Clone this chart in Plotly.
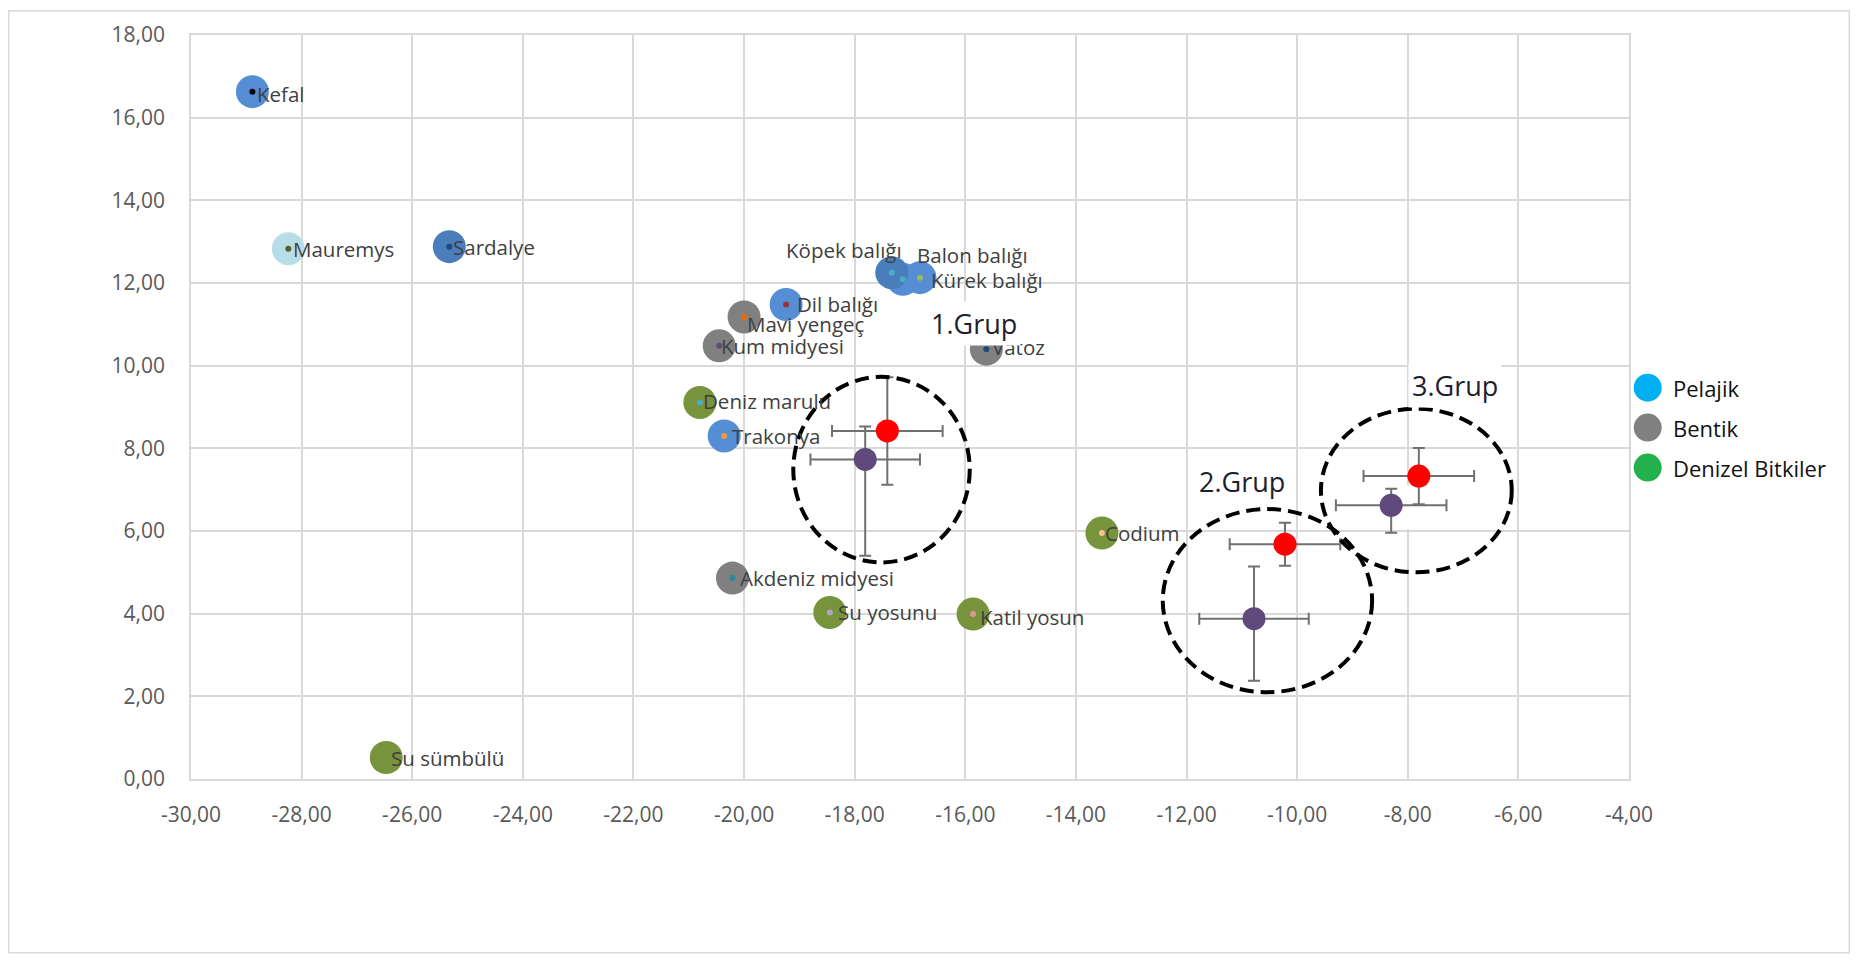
import plotly.graph_objects as go

# ---------------- data ----------------
species = ["Kefal", "Mauremys", "Sardalye", "Köpek balığı", "Balon balığı", "Kürek balığı",
           "Dil balığı", "Mavi yengeç", "Kum midyesi", "Vatoz", "Deniz marulu", "Trakonya",
           "Codium", "Akdeniz midyesi", "Su yosunu", "Katil yosun", "Su sümbülü"]
d13c = [-28.89, -28.24, -25.33, -17.33, -17.13, -16.82,
        -19.24, -20.00, -20.45, -15.62, -20.80, -20.36,
        -13.53, -20.21, -18.45, -15.86, -26.47]
d15n = [16.63, 12.83, 12.88, 12.25, 12.09, 12.13,
        11.48, 11.18, 10.48, 10.40, 9.11, 8.30,
        5.95, 4.86, 4.03, 3.99, 0.52]
habitat = ["Pelajik", "Pelajik", "Pelajik", "Pelajik", "Pelajik", "Pelajik",
           "Pelajik", "Bentik", "Bentik", "Bentik", "Denizel Bitkiler", "Pelajik",
           "Denizel Bitkiler", "Bentik", "Denizel Bitkiler", "Denizel Bitkiler", "Denizel Bitkiler"]

group_labels = ["1.Grup", "2.Grup", "3.Grup"]
red_x = [-17.41, -10.22, -7.80]
red_y = [8.42, 5.68, 7.33]
red_xerr = [1.00, 1.00, 1.00]
red_yerr = [1.30, 0.52, 0.68]
purple_x = [-17.81, -10.78, -8.30]
purple_y = [7.73, 3.88, 6.62]
purple_xerr = [0.99, 0.99, 1.00]
purple_yerr_plus = [0.80, 1.26, 0.40]
purple_yerr_minus = [2.33, 1.50, 0.66]

# group label positions and ellipse extents (data units)
group_label_x = [-15.85, -11.00, -7.14]
group_label_y = [11.03, 7.19, 9.51]
ellipse_x0 = [-19.11, -12.43, -9.57]
ellipse_x1 = [-15.92, -8.645, -6.12]
ellipse_y0 = [5.24, 2.10, 5.00]
ellipse_y1 = [9.73, 6.53, 8.96]

legend_names = ["Pelajik", "Bentik", "Denizel Bitkiler"]

x_ticks = [-30, -28, -26, -24, -22, -20, -18, -16, -14, -12, -10, -8, -6, -4]
x_tick_text = ["-30,00", "-28,00", "-26,00", "-24,00", "-22,00", "-20,00", "-18,00",
               "-16,00", "-14,00", "-12,00", "-10,00", "-8,00", "-6,00", "-4,00"]
y_ticks = [0, 2, 4, 6, 8, 10, 12, 14, 16, 18]
y_tick_text = ["0,00", "2,00", "4,00", "6,00", "8,00", "10,00", "12,00", "14,00", "16,00", "18,00"]

# ---------------- styles ----------------
bubble_color = {"Kefal": "#558ED5", "Mauremys": "#B7DEE8", "Sardalye": "#4A7EBB",
                "Köpek balığı": "#4A7EBB", "Balon balığı": "#558ED5", "Kürek balığı": "#558ED5",
                "Dil balığı": "#558ED5", "Mavi yengeç": "#808080", "Kum midyesi": "#808080",
                "Vatoz": "#808080", "Deniz marulu": "#77933C", "Trakonya": "#558ED5",
                "Codium": "#77933C", "Akdeniz midyesi": "#808080", "Su yosunu": "#77933C",
                "Katil yosun": "#77933C", "Su sümbülü": "#77933C"}
dot_color = {"Kefal": "#000000", "Mauremys": "#4F6228", "Sardalye": "#1F497D",
             "Köpek balığı": "#4BACC6", "Balon balığı": "#4BACC6", "Kürek balığı": "#9BBB59",
             "Dil balığı": "#953735", "Mavi yengeç": "#E46C0A", "Kum midyesi": "#604A7B",
             "Vatoz": "#1F497D", "Deniz marulu": "#4BACC6", "Trakonya": "#F79646",
             "Codium": "#FAC090", "Akdeniz midyesi": "#31859C", "Su yosunu": "#B3A2C7",
             "Katil yosun": "#D99694", "Su sümbülü": "#77933C"}
# label offsets in pixels: (anchor, dx, dy_down)
label_offset = {"Kefal": ("left", 3, 2), "Mauremys": ("left", 3, 0), "Sardalye": ("left", 2, 0),
                "Köpek balığı": ("right", 12, -23), "Balon balığı": ("left", 12, -24),
                "Kürek balığı": ("left", 9, 2), "Dil balığı": ("left", 9, 0),
                "Mavi yengeç": ("left", 1, 7), "Kum midyesi": ("left", 0, 0),
                "Vatoz": ("left", 4, -2), "Deniz marulu": ("left", 1, -1),
                "Trakonya": ("left", 6, 0), "Codium": ("left", 1, 0),
                "Akdeniz midyesi": ("left", 6, 0), "Su yosunu": ("left", 6, 0),
                "Katil yosun": ("left", 5, 3), "Su sümbülü": ("left", 3, 0)}
legend_color = {"Pelajik": "#00B0F0", "Bentik": "#808080", "Denizel Bitkiler": "#22B14C"}

FONT = "Open Sans"
GRID = "#D9D9D9"
ERR = "#707070"

fig = go.Figure()

# species bubbles (draw Köpek last so it sits on top of neighbours)
order = [i for i in range(len(species)) if species[i] != "Köpek balığı"] + \
        [species.index("Köpek balığı")]
fig.add_trace(go.Scatter(
    x=[d13c[i] for i in order], y=[d15n[i] for i in order], mode="markers",
    marker=dict(size=33, color=[bubble_color[species[i]] for i in order], line=dict(width=0)),
    text=[species[i] for i in order], customdata=[habitat[i] for i in order],
    hovertemplate="%{text} (%{customdata})<br>%{x:.2f}, %{y:.2f}<extra></extra>",
    showlegend=False))
# small centre dots
fig.add_trace(go.Scatter(
    x=d13c, y=d15n, mode="markers",
    marker=dict(size=6, color=[dot_color[s] for s in species], line=dict(width=0)),
    hoverinfo="skip", showlegend=False))

# group means with error bars
fig.add_trace(go.Scatter(
    x=purple_x, y=purple_y, mode="markers",
    marker=dict(size=23, color="#604A7B", line=dict(width=0)),
    error_x=dict(type="data", array=purple_xerr, color=ERR, thickness=2, width=6),
    error_y=dict(type="data", symmetric=False, array=purple_yerr_plus,
                 arrayminus=purple_yerr_minus, color=ERR, thickness=2, width=6),
    showlegend=False))
fig.add_trace(go.Scatter(
    x=red_x, y=red_y, mode="markers",
    marker=dict(size=23, color="#FF0000", line=dict(width=0)),
    error_x=dict(type="data", array=red_xerr, color=ERR, thickness=2, width=6),
    error_y=dict(type="data", array=red_yerr, color=ERR, thickness=2, width=6),
    showlegend=False))

annotations = []
for s, x, y in zip(species, d13c, d15n):
    anchor, dx, dy = label_offset[s]
    annotations.append(dict(x=x, y=y, xref="x", yref="y", text=s, showarrow=False,
                            xanchor=anchor, yanchor="middle", xshift=dx, yshift=-dy,
                            font=dict(family=FONT, size=20.5, color="#404040")))

shapes = []
# white patch (pasted picture background) hiding grid lines around the 3rd group's purple point
shapes.append(dict(type="rect", xref="x", yref="y", x0=-9.54, x1=-7.16, y0=6.05, y1=7.10,
                   fillcolor="white", line=dict(width=0), layer="between"))
for x0, x1, y0, y1 in zip(ellipse_x0, ellipse_x1, ellipse_y0, ellipse_y1):
    shapes.append(dict(type="circle", xref="x", yref="y", x0=x0, x1=x1, y0=y0, y1=y1,
                       line=dict(color="black", width=4, dash="14px,7px"), layer="above"))
for t, x, y in zip(group_labels, group_label_x, group_label_y):
    annotations.append(dict(x=x, y=y, xref="x", yref="y", text=t, showarrow=False,
                            xanchor="center", yanchor="middle", bgcolor="white", borderpad=3,
                            font=dict(family=FONT, size=27, color="#1E1E2E")))

# manual legend (large round markers)
leg_x, leg_y0, leg_dy, text_x = 1.0130, 0.526, 0.0537, 1.0295
for k, name in enumerate(legend_names):
    yy = leg_y0 - k * leg_dy
    shapes.append(dict(type="circle", xref="paper", yref="paper", xsizemode="pixel",
                       ysizemode="pixel", xanchor=leg_x, yanchor=yy, x0=-14, x1=14, y0=-14, y1=14,
                       fillcolor=legend_color[name], line=dict(width=0)))
    annotations.append(dict(x=text_x, y=yy, xref="paper", yref="paper", text=name,
                            showarrow=False, xanchor="left", yanchor="middle",
                            font=dict(family=FONT, size=22, color="#111111")))

# outer chart border (just inside the figure edge)
shapes.append(dict(type="rect", xref="paper", yref="paper", x0=-0.1267, x1=1.1532,
                   y0=-0.2336, y1=1.0325, line=dict(color=GRID, width=1.5), layer="below"))

# page has an 8px body margin: figure sized so that it exactly fills the 1858x962 window
fig.update_layout(
    width=1842, height=946,
    margin=dict(l=183, r=221, t=25, b=175),
    paper_bgcolor="white", plot_bgcolor="white",
    font=dict(family=FONT, size=21, color="#595959"),
    showlegend=False,
    annotations=annotations, shapes=shapes,
    xaxis=dict(range=[-30, -4], tickvals=x_ticks, ticktext=x_tick_text,
               showgrid=True, gridcolor=GRID, gridwidth=1.5, zeroline=False,
               showline=True, linecolor=GRID, linewidth=1.5, mirror=True,
               ticks="", ticklabelstandoff=16,
               tickfont=dict(family=FONT, size=21, color="#595959")),
    yaxis=dict(range=[0, 18], tickvals=y_ticks, ticktext=y_tick_text,
               showgrid=True, gridcolor=GRID, gridwidth=1.5, zeroline=False,
               showline=True, linecolor=GRID, linewidth=1.5, mirror=True,
               ticks="", ticklabelstandoff=20,
               tickfont=dict(family=FONT, size=21, color="#595959")),
)

fig.write_html("out.html")
